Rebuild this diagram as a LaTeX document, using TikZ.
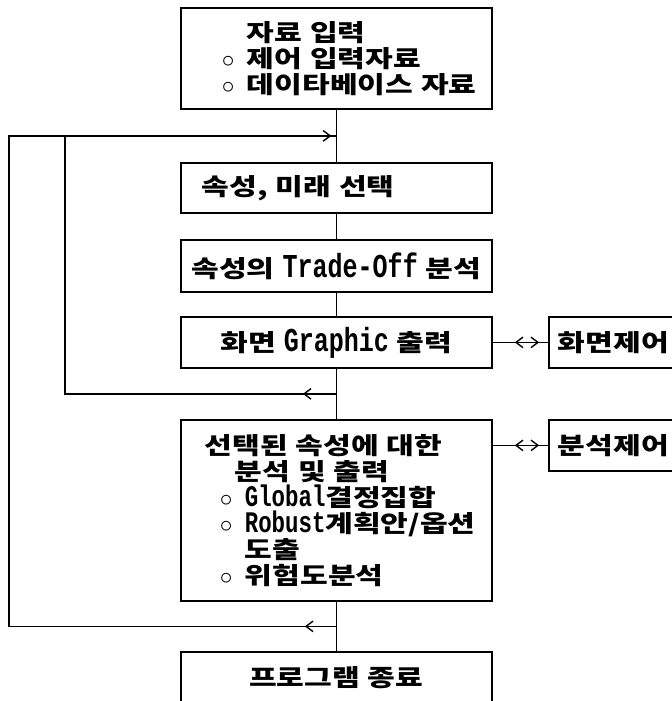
\documentclass[tikz,border=0pt]{standalone}
\usepackage{fontspec}
\newfontfamily\kr{Noto Sans CJK KR}[FakeStretch=1.27]
\newfontfamily\latfont{Liberation Mono}[FakeStretch=0.75]
\usetikzlibrary{arrows.meta,calc,decorations.markings}
\newcommand{\lat}[2][19]{{\latfont\fontsize{#1}{14.6}\selectfont #2}}
\newcommand{\bul}{\makebox[0.5cm][l]{$\circ$}}

\begin{document}
\begin{tikzpicture}[x=0.02cm,y=-0.02cm,
  barb/.tip={Straight Barb[length=4pt,width=6pt]},
  box/.style={draw, line width=1pt, text width=5.82cm, inner xsep=0.2cm, inner ysep=0pt, align=left, anchor=north west, font={\kr\bfseries\fontsize{13.5}{14.8}\selectfont\lineskiplimit=-20pt}},
  ctlbox/.style={box, text width=2.8cm, inner xsep=0.18cm, minimum height=1.02cm},
  link/.style={line width=0.8pt}
]

\useasboundingbox (0,0) rectangle (672,701);
\clip (0,0) rectangle (672,701);

\node[box, minimum height=2.02cm] (input) at (180,7) {\hspace*{1.12cm}자료 입력\\ \hspace*{0.62cm}\bul 제어 입력자료\\ \hspace*{0.62cm}\bul 데이타베이스 자료};
\node[box, minimum height=1cm] (choose) at (180,162) {\hspace*{0.22cm}속성, 미래 선택};
\node[box, minimum height=1.04cm, align=center] (tradeoff) at (180,239) {\mbox{속성의 \lat{Trade-Off} 분석}};
\node[box, minimum height=1.02cm, align=center] (screen) at (180,316) {\mbox{화면 \lat{Graphic} 출력}};
\node[box, minimum height=3.62cm] (analysis) at (180,419) {\hspace*{0.28cm}선택된 속성에 대한\\ \hspace*{0.88cm}분석 및 출력\\ \hspace*{0.58cm}\bul\lat[17]{Global}결정집합\\ \hspace*{0.58cm}\bul\lat[17]{Robust}계획안/옵션\\ \hspace*{1.08cm}도출\\ \hspace*{0.58cm}\bul 위험도분석};
\node[box, minimum height=1.04cm, align=center] (finish) at (180,651) {프로그램 종료};

\node[ctlbox] (scrctl) at (548,316) {화면제어};
\node[ctlbox] (anactl) at (548,419) {분석제어};

\foreach \a/\b in {input/choose, choose/tradeoff, tradeoff/screen, screen/analysis, analysis/finish}
  \draw[link] (\a) -- (\b);

\coordinate (jtop) at ($(input.south)!0.5!(choose.north)$);
\coordinate (jmid) at ($(screen.south)!0.5!(analysis.north)$);
\coordinate (jbot) at ($(analysis.south)!0.5!(finish.north)$);
\coordinate (otl) at (9,0 |- jtop);
\coordinate (itl) at (65,0 |- jtop);

\draw[link, postaction={decorate}, decoration={markings, mark=at position 0.63cm with {\arrow{barb}}, mark=at position -0.1cm with {\arrow{barb}}}] (jbot) -| (otl) -- (jtop);
\draw[link, postaction={decorate}, decoration={markings, mark=at position 0.67cm with {\arrow{barb}}}] (jmid) -| (itl);

\draw[link] (screen.east) -- (scrctl.west);
\draw[link, barb-barb] ($(screen.east)!0.4!(scrctl.west)$) -- ($(screen.east)!0.84!(scrctl.west)$);
\draw[link] (anactl.west -| analysis.east) -- (anactl.west);
\draw[link, barb-barb] ($(anactl.west -| analysis.east)!0.4!(anactl.west)$) -- ($(anactl.west -| analysis.east)!0.84!(anactl.west)$);

\end{tikzpicture}
\end{document}
